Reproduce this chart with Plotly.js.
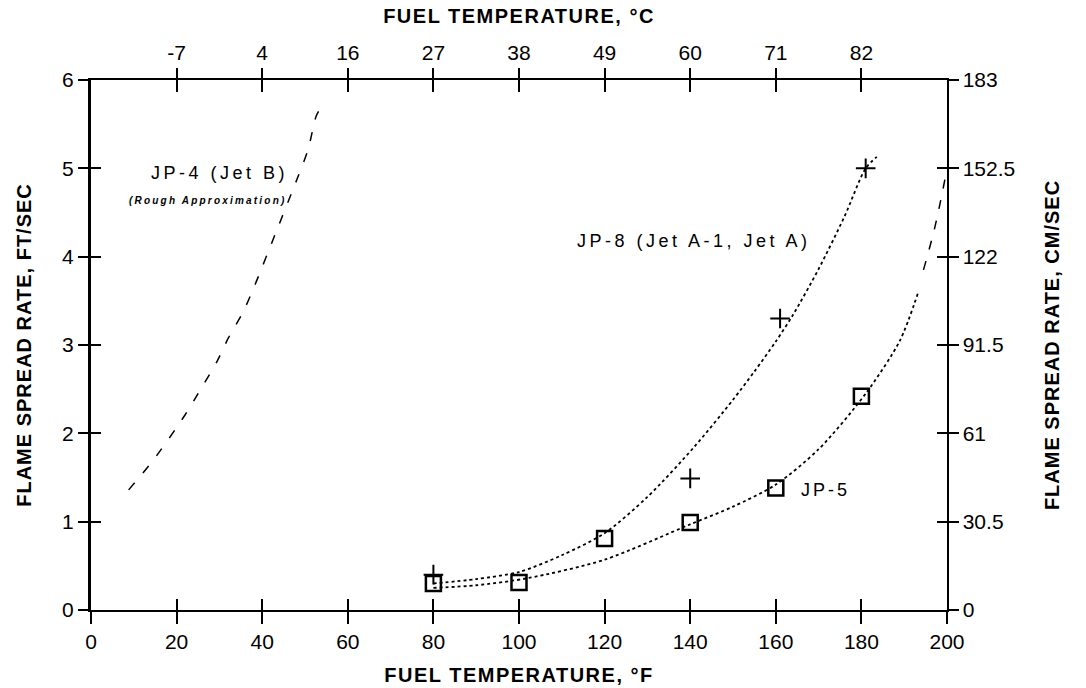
<!DOCTYPE html>
<html>
<head>
<meta charset="utf-8">
<script src="https://cdn.plot.ly/plotly-3.0.1.min.js"></script>
<style>html,body{margin:0;padding:0;background:#fff;}#chart{width:1086px;height:688px;}</style>
</head>
<body>
<div id="chart"></div>
<script>
// ---- data ----
const fahrenheitTicks = [0, 20, 40, 60, 80, 100, 120, 140, 160, 180, 200];
const celsiusTickPos = [20, 40, 60, 80, 100, 120, 140, 160, 180];
const celsiusLabels = ['-7', '4', '16', '27', '38', '49', '60', '71', '82'];
const ftTicks = [0, 1, 2, 3, 4, 5, 6];
const cmTicks = [0, 30.5, 61, 91.5, 122, 152.5, 183];
const cmLabels = ['0', '30.5', '61', '91.5', '122', '152.5', '183'];

// JP-4 (Jet B), rough approximation (dashed)
const jp4X = [8.8, 14.6, 22, 25.5, 29.4, 32.1, 35.6, 38.3, 43, 48.4, 50.7, 52.6, 53.6];
const jp4Y = [1.36, 1.70, 2.21, 2.49, 2.81, 3.08, 3.38, 3.68, 4.25, 4.91, 5.21, 5.59, 5.68];

// JP-8 (Jet A-1, Jet A) fitted curve
const jp8X = [80, 90, 100, 110, 120, 130, 141, 150, 155, 160, 164, 170, 176, 181, 183.6];
const jp8Y = [0.30, 0.35, 0.43, 0.62, 0.87, 1.28, 1.85, 2.38, 2.70, 3.04, 3.34, 3.86, 4.45, 5.00, 5.13];

// JP-5 fitted curve (dotted) and its dashed extension
const jp5X = [80, 90, 102, 120, 140, 150, 160, 170, 181, 189, 193.3];
const jp5Y = [0.25, 0.28, 0.36, 0.57, 0.97, 1.17, 1.42, 1.82, 2.45, 3.05, 3.60];
const jp5ExtX = [194.5, 197, 199, 200];
const jp5ExtY = [3.85, 4.30, 4.75, 5.00];

// measured points
const plusX = [80, 140, 161, 181];
const plusY = [0.40, 1.49, 3.30, 5.00];
const squareX = [80, 100, 120, 140, 160, 180];
const squareY = [0.30, 0.31, 0.81, 0.99, 1.38, 2.42];

const FONT = 'Liberation Sans, Arial, sans-serif';
const spaced = (t, s) => '<span style="letter-spacing:' + s + 'px">' + t + '</span>';

const traces = [
  {x: jp4X, y: jp4Y, mode: 'lines', line: {color: '#000', width: 1.5, dash: '9px,13px', shape: 'spline', smoothing: 0.8}, xaxis: 'x', yaxis: 'y'},
  {x: jp8X, y: jp8Y, mode: 'lines', line: {color: '#000', width: 1.8, dash: 'dot', shape: 'spline', smoothing: 0.8}, xaxis: 'x', yaxis: 'y'},
  {x: jp5X, y: jp5Y, mode: 'lines', line: {color: '#000', width: 1.8, dash: 'dot', shape: 'spline', smoothing: 0.8}, xaxis: 'x', yaxis: 'y'},
  {x: jp5ExtX, y: jp5ExtY, mode: 'lines', line: {color: '#000', width: 1.5, dash: '9px,12px', shape: 'spline'}, xaxis: 'x', yaxis: 'y'},
  {x: squareX, y: squareY, mode: 'markers', marker: {symbol: 'square-open', size: 15, color: '#000', line: {width: 2.5, color: '#000'}}, xaxis: 'x', yaxis: 'y'},
  {x: plusX, y: plusY, mode: 'markers', marker: {symbol: 'cross-thin-open', size: 14, color: '#000', line: {width: 2, color: '#000'}}, xaxis: 'x', yaxis: 'y'},
  {x: [], y: [], xaxis: 'x2', yaxis: 'y2', showlegend: false},
  {x: [], y: [], xaxis: 'x3', yaxis: 'y3', showlegend: false},
  {x: [], y: [], xaxis: 'x4', yaxis: 'y4', showlegend: false}
];

const tickFont = {family: FONT, size: 21, color: '#000'};
const titleFont = {family: FONT, size: 20, color: '#000', weight: 'bold'};
const noteFont = {family: FONT, size: 18, color: '#000'};

const layout = {
  width: 1086, height: 688,
  margin: {l: 91, r: 139, t: 80, b: 78},
  paper_bgcolor: '#fff', plot_bgcolor: '#fff',
  showlegend: false,
  xaxis: {
    range: [0, 200], side: 'bottom', anchor: 'y',
    tickmode: 'array', tickvals: fahrenheitTicks,
    ticks: 'outside', ticklen: 12, tickwidth: 2, tickcolor: '#000',
    showline: true, linecolor: '#000', linewidth: 2,
    showgrid: false, zeroline: false, tickfont: tickFont,
    title: {text: spaced('FUEL TEMPERATURE, °F', 1.5), font: titleFont, standoff: 16}
  },
  xaxis2: {
    range: [0, 200], side: 'top', overlaying: 'x', anchor: 'y',
    tickmode: 'array', tickvals: celsiusTickPos, ticktext: celsiusLabels,
    ticks: 'outside', ticklen: 10, tickwidth: 2, tickcolor: '#000',
    showline: true, linecolor: '#000', linewidth: 2,
    showgrid: false, zeroline: false, tickfont: tickFont,
    title: {text: spaced('FUEL TEMPERATURE, °C', 1.5), font: titleFont, standoff: 12}
  },
  xaxis3: {
    range: [0, 200], side: 'bottom', overlaying: 'x', anchor: 'y',
    tickmode: 'array', tickvals: fahrenheitTicks,
    ticks: 'inside', ticklen: 11, tickwidth: 2, tickcolor: '#000',
    showticklabels: false, showline: false, showgrid: false, zeroline: false
  },
  xaxis4: {
    range: [0, 200], side: 'top', overlaying: 'x', anchor: 'y',
    tickmode: 'array', tickvals: celsiusTickPos,
    ticks: 'inside', ticklen: 12, tickwidth: 2, tickcolor: '#000',
    showticklabels: false, showline: false, showgrid: false, zeroline: false
  },
  yaxis: {
    range: [0, 6], side: 'left', anchor: 'x',
    tickmode: 'array', tickvals: ftTicks,
    ticks: 'outside', ticklen: 10, tickwidth: 2, tickcolor: '#000',
    showline: true, linecolor: '#000', linewidth: 3,
    showgrid: false, zeroline: false, tickfont: tickFont,
    title: {text: spaced('FLAME SPREAD RATE, FT/SEC', 1), font: titleFont, standoff: 26}
  },
  yaxis2: {
    range: [0, 183], side: 'right', overlaying: 'y', anchor: 'x',
    tickmode: 'array', tickvals: cmTicks, ticktext: cmLabels,
    ticks: 'outside', ticklen: 10, tickwidth: 2, tickcolor: '#000',
    showline: true, linecolor: '#000', linewidth: 1.5,
    showgrid: false, zeroline: false, tickfont: tickFont,
    title: {text: spaced('FLAME SPREAD RATE, CM/SEC', 1), font: titleFont, standoff: 30}
  },
  yaxis3: {
    range: [0, 6], side: 'left', overlaying: 'y', anchor: 'x',
    tickmode: 'array', tickvals: ftTicks,
    ticks: 'inside', ticklen: 10, tickwidth: 2, tickcolor: '#000',
    showticklabels: false, showline: false, showgrid: false, zeroline: false
  },
  yaxis4: {
    range: [0, 183], side: 'right', overlaying: 'y', anchor: 'x',
    tickmode: 'array', tickvals: cmTicks,
    ticks: 'inside', ticklen: 10, tickwidth: 2, tickcolor: '#000',
    showticklabels: false, showline: false, showgrid: false, zeroline: false
  },
  annotations: [
    {text: spaced('JP-4 (Jet B)', 3.5), x: 13.5, y: 4.95, xref: 'x', yref: 'y', xanchor: 'left', yanchor: 'middle', showarrow: false, font: noteFont},
    {text: spaced('(Rough Approximation)', 2.2), x: 8.5, y: 4.64, xref: 'x', yref: 'y', xanchor: 'left', yanchor: 'middle', showarrow: false, font: {family: FONT, size: 10, color: '#000', weight: 'bold', style: 'italic'}},
    {text: spaced('JP-8 (Jet A-1, Jet A)', 3.5), x: 113, y: 4.18, xref: 'x', yref: 'y', xanchor: 'left', yanchor: 'middle', showarrow: false, font: noteFont},
    {text: spaced('JP-5', 3), x: 165.5, y: 1.36, xref: 'x', yref: 'y', xanchor: 'left', yanchor: 'middle', showarrow: false, font: noteFont}
  ]
};

Plotly.newPlot('chart', traces, layout, {displayModeBar: false, staticPlot: true});
</script>
</body>
</html>
